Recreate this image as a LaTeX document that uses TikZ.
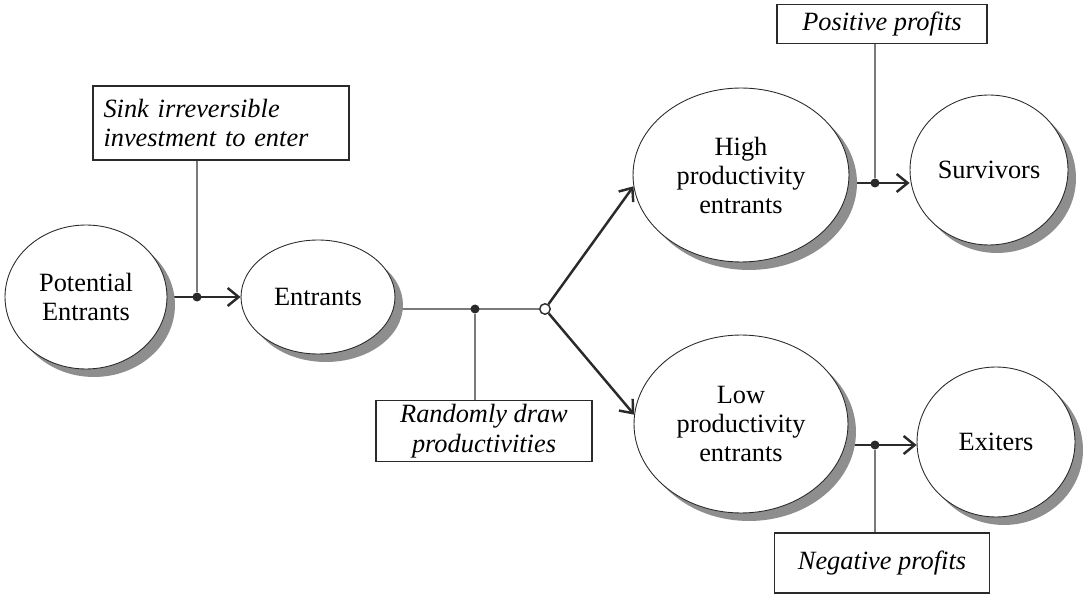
\documentclass[tikz,border=0pt]{standalone}
\usepackage{fontspec}
\setmainfont{Liberation Serif}
\usetikzlibrary{arrows.meta,calc,positioning,shapes.geometric,shadows,backgrounds}
\definecolor{shadeC}{HTML}{8E8E8E}
\definecolor{lineC}{HTML}{2A2A2A}
\definecolor{tieC}{HTML}{7A7A7A}
\tikzset{
  blob/.style={ellipse, draw=lineC, line width=0.5pt, fill=white, align=center, inner sep=0pt,
               font=\fontsize{15}{16.5}\selectfont,
               drop shadow={shadow xshift=0.16cm, shadow yshift=-0.16cm, fill=shadeC, opacity=1}},
  note/.style={rectangle, draw=lineC, line width=0.9pt, fill=white, align=center, inner sep=2pt,
               font=\fontsize{15}{17}\selectfont\itshape},
  arr/.style={-{Straight Barb[length=2.2mm,width=3.6mm,line width=1.4pt]}, draw=lineC, line width=1.4pt},
  tie/.style={draw=tieC, line width=0.8pt},
  jdot/.style={circle, fill=lineC, inner sep=0pt, minimum size=1.8mm},
  odot/.style={circle, draw=lineC, line width=0.8pt, fill=white, inner sep=0pt, minimum size=2.1mm},
}

\begin{document}
\begin{tikzpicture}[x=0.02cm, y=-0.02cm]
\useasboundingbox (0,0) rectangle (1085,594);
% ellipses
\node[blob, minimum width=3.24cm, minimum height=2.88cm] (pot) at (86,297) {Potential\\Entrants};
\node[blob, minimum width=3.08cm, minimum height=2.28cm] (ent) at (318,297) {Entrants};
\node[blob, minimum width=4.32cm, minimum height=3.48cm] (high) at (741,175) {High\\productivity\\entrants};
\node[blob, minimum width=3.16cm, minimum height=3.0cm] (surv) at (989,170) {Survivors};
\node[blob, minimum width=4.28cm, minimum height=3.56cm] (low) at (741,424) {Low\\productivity\\entrants};
\node[blob, minimum width=3.16cm, minimum height=3.0cm] (exit) at (996,442) {Exiters};
% boxes
\node[note, align=left, text width=4.7cm, inner xsep=0.21cm, minimum height=1.48cm] (sink) at (221,123) {Sink irreversible\\investment to enter};
\node[note, minimum width=4.32cm, minimum height=1.0cm] (rand) at (484,431) {Randomly draw\\productivities};
\node[note, minimum width=4.2cm, minimum height=0.78cm] (pos) at (882,24) {Positive profits};
\node[note, minimum width=4.3cm, minimum height=1.2cm] (neg) at (882,563) {Negative profits};
% joints
\node[jdot] (j1) at (197,297) {};
\node[jdot] (j2) at (475,309) {};
\node[odot] (split) at (545,309) {};
\node[jdot] (j3) at (875,183) {};
\node[jdot] (j4) at (875,445) {};
\begin{scope}[on background layer]
\draw[arr] (pot) -- (ent);
\draw[tie] (j1) -- (j1 |- sink.south);
\draw[tie] (ent.east |- split) -- (split);
\draw[tie] (j2) -- (j2 |- rand.north);
\draw[arr] (split) -- (high.186);
\draw[arr] (split) -- (low.175);
\draw[arr] (high.east |- j3) -- (surv.west |- j3);
\draw[tie] (j3) -- (j3 |- pos.south);
\draw[arr] (low.east |- j4) -- (exit.west |- j4);
\draw[tie] (j4) -- (j4 |- neg.north);
\end{scope}
\end{tikzpicture}
\end{document}
